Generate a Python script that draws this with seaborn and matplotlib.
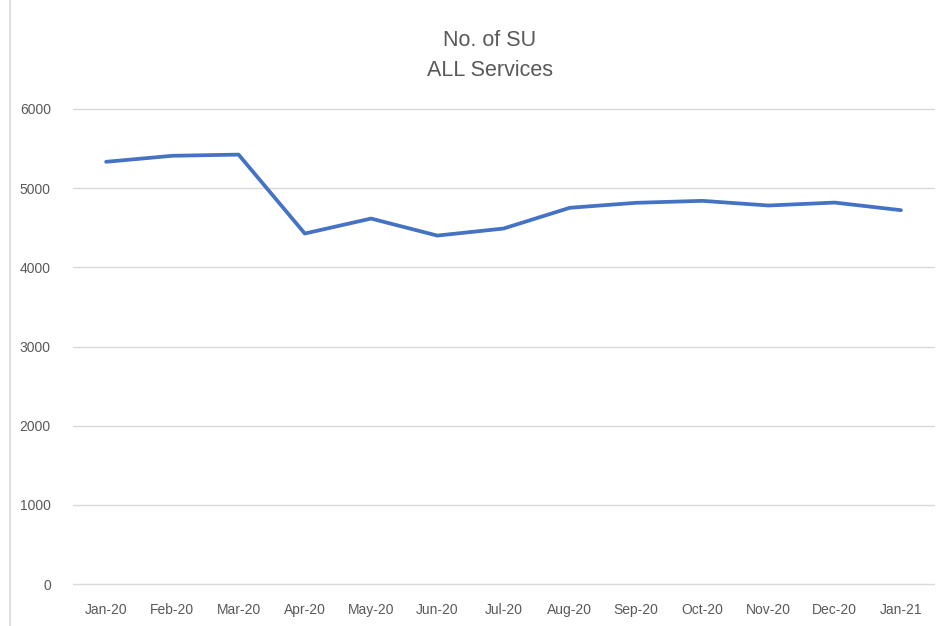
import pandas as pd
import matplotlib.pyplot as plt
import seaborn as sns
from matplotlib.lines import Line2D

# chart data
months = ["Jan-20", "Feb-20", "Mar-20", "Apr-20", "May-20", "Jun-20", "Jul-20",
          "Aug-20", "Sep-20", "Oct-20", "Nov-20", "Dec-20", "Jan-21"]
su_count = [5333, 5409, 5424, 4427, 4616, 4401, 4490,
            4752, 4815, 4840, 4781, 4818, 4722]
y_ticks = [0, 1000, 2000, 3000, 4000, 5000, 6000]

df = pd.DataFrame({"month": months, "su": su_count})
df["pos"] = range(len(df))

sns.set_style("white")
plt.rcParams["font.family"] = ["Liberation Sans", "DejaVu Sans"]

fig = plt.figure(figsize=(9.44, 6.26), dpi=100)
ax = fig.add_axes([73 / 944, 1 - 584 / 626, (934 - 73) / 944, (584 - 109) / 626])

sns.lineplot(data=df, x="pos", y="su", ax=ax, color="#4472C4", linewidth=2.7,
             solid_capstyle="round", zorder=3)

ax.set_xlim(-0.5, len(months) - 0.5)
ax.set_ylim(0, 6000)
ax.set_xticks(df["pos"])
ax.set_xticklabels(months)
ax.set_yticks(y_ticks)
ax.set_yticklabels([str(v) for v in y_ticks])
ax.grid(axis="y", color="#D9D9D9", linewidth=1.0)
ax.grid(axis="x", visible=False)
for gl in ax.get_ygridlines():
    gl.set_clip_on(False)
for s in ax.spines.values():
    s.set_visible(False)
ax.tick_params(axis="both", length=0, colors="#595959", labelsize=10)
ax.tick_params(axis="x", pad=14)
ax.tick_params(axis="y", pad=16)
ax.set_xlabel("")
ax.set_ylabel("")

fig.text(490 / 944, 1 - 40 / 626, "No. of SU", ha="center", va="center",
         fontsize=15.5, color="#595959")
fig.text(490 / 944, 1 - 70 / 626, "ALL Services", ha="center", va="center",
         fontsize=15.5, color="#595959")

# chart frame edge on the left
fig.add_artist(Line2D([10 / 944, 10 / 944], [0, 1], transform=fig.transFigure,
                      color="#D9D9D9", linewidth=1.2))

plt.savefig("out.png", dpi=100)
